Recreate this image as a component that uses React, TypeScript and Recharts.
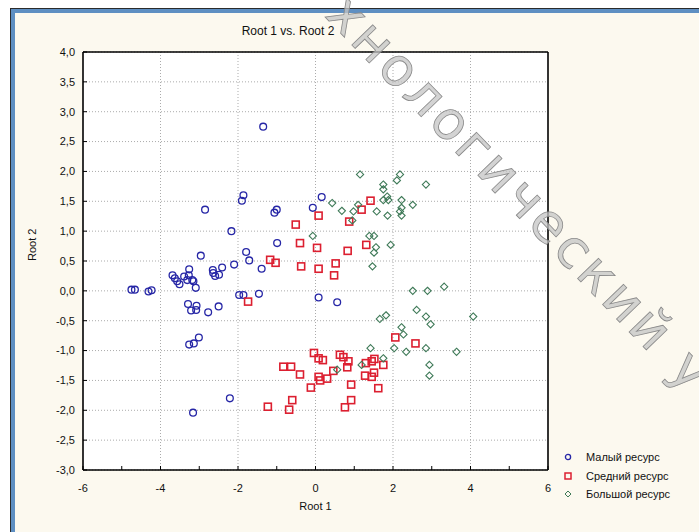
import { ScatterChart, Scatter, XAxis, YAxis, CartesianGrid, ReferenceLine, Legend } from 'recharts';

// Root 1 / Root 2 pairs for each group
const smallRes: [number, number][] = [
  [-1.35, 2.75], [-1.86, 1.6], [-1.9, 1.51], [-2.85, 1.36], [-1.0, 1.36], [-1.06, 1.31],
  [0.16, 1.57], [-0.07, 1.39], [-2.17, 1.0], [-0.99, 0.8], [-2.96, 0.59], [-1.79, 0.65],
  [-1.71, 0.51], [-2.1, 0.44], [-2.41, 0.39], [-3.26, 0.36], [-2.65, 0.35], [-1.39, 0.37],
  [-2.64, 0.3], [-2.59, 0.25], [-2.49, 0.27], [-3.69, 0.26], [-3.63, 0.21], [-3.57, 0.16],
  [-3.51, 0.11], [-3.39, 0.24], [-3.31, 0.18], [-3.18, 0.18], [-3.27, 0.26], [-3.15, 0.16],
  [-3.09, 0.05], [-4.75, 0.02], [-4.66, 0.02], [-4.31, -0.01], [-4.23, 0.01], [-1.97, -0.07],
  [-1.86, -0.07], [-1.46, -0.05], [0.08, -0.11], [0.56, -0.19], [-3.29, -0.22], [-3.21, -0.33],
  [-3.07, -0.25], [-3.08, -0.32], [-2.77, -0.36], [-2.5, -0.26], [-3.26, -0.9], [-3.14, -0.88],
  [-3.01, -0.78], [-2.21, -1.8], [-3.16, -2.04],
];

const mediumRes: [number, number][] = [
  [0.08, 1.26], [-0.51, 1.11], [-0.4, 0.8], [0.04, 0.72], [-1.17, 0.52], [-1.03, 0.47],
  [-0.37, 0.41], [0.08, 0.37], [1.42, 1.51], [1.19, 1.36], [0.87, 1.16], [0.83, 0.67],
  [1.31, 0.77], [0.52, 0.46], [0.48, 0.26], [-1.74, -0.18], [-0.04, -1.04], [0.08, -1.13],
  [0.19, -1.16], [-0.83, -1.27], [-0.63, -1.27], [-0.4, -1.4], [0.08, -1.44], [0.12, -1.5],
  [0.3, -1.47], [-0.12, -1.62], [-0.6, -1.83], [-0.68, -1.99], [-1.23, -1.94], [2.06, -0.78],
  [2.58, -0.88], [0.63, -1.07], [0.72, -1.11], [0.85, -1.18], [0.82, -1.28], [0.46, -1.34],
  [1.3, -1.21], [1.45, -1.18], [1.52, -1.14], [1.75, -1.24], [1.28, -1.42], [1.45, -1.44],
  [1.51, -1.37], [0.92, -1.57], [1.62, -1.63], [0.92, -1.83], [0.76, -1.95],
];

const largeRes: [number, number][] = [
  [-0.07, 0.92], [1.15, 1.95], [2.18, 1.95], [2.1, 1.85], [2.85, 1.78], [1.75, 1.78],
  [1.75, 1.7], [1.85, 1.58], [1.75, 1.52], [1.88, 1.52], [2.22, 1.52], [2.22, 1.39],
  [2.18, 1.33], [2.22, 1.26], [2.51, 1.44], [0.43, 1.47], [0.68, 1.34], [1.1, 1.44],
  [0.98, 1.33], [1.58, 1.33], [1.86, 1.26], [0.95, 1.18], [1.39, 0.92], [1.51, 0.92],
  [1.56, 0.73], [1.51, 0.64], [1.94, 0.77], [1.47, 0.41], [2.51, 0.0], [2.89, 0.0],
  [3.32, 0.07], [2.61, -0.32], [2.85, -0.43], [2.97, -0.56], [4.07, -0.43], [1.66, -0.47],
  [1.82, -0.41], [2.22, -0.61], [2.27, -0.73], [1.42, -0.96], [2.03, -0.96], [2.34, -1.02],
  [2.85, -0.96], [3.64, -1.02], [1.75, -1.13], [1.19, -1.24], [0.56, -1.32], [2.94, -1.24],
  [2.94, -1.42],
];

const seriesNames = ['Малый ресурс', 'Средний ресурс', 'Большой ресурс'];
const xTicks = [-6, -5, -4, -3, -2, -1, 0, 1, 2, 3, 4, 5, 6];
const yTicks = [-3, -2.5, -2, -1.5, -1, -0.5, 0, 0.5, 1, 1.5, 2, 2.5, 3, 3.5, 4];

const toPts = (arr: [number, number][]) => arr.map(([x, y]) => ({ x, y }));

const FONT = '"Liberation Sans", Arial, sans-serif';
const BLUE = '#2626a6';
const RED = '#dc1f30';
const GREEN = '#3f7a58';

const CircleDot = (p: any) => (
  <circle cx={p.cx} cy={p.cy} r={3.4} fill="none" stroke={BLUE} strokeWidth={1.3} />
);
const SquareDot = (p: any) => (
  <rect x={p.cx - 3.5} y={p.cy - 3.5} width={7} height={7} fill="none" stroke={RED} strokeWidth={1.6} />
);
const DiamondDot = (p: any) => (
  <polygon
    points={`${p.cx},${p.cy - 3.6} ${p.cx + 3.6},${p.cy} ${p.cx},${p.cy + 3.6} ${p.cx - 3.6},${p.cy}`}
    fill="none"
    stroke={GREEN}
    strokeWidth={1.1}
  />
);

const legendMarks = [
  <circle cx={5} cy={5} r={2.6} fill="none" stroke={BLUE} strokeWidth={1.3} />,
  <rect x={2} y={2} width={6} height={6} fill="none" stroke={RED} strokeWidth={1.5} />,
  <polygon points="5,2 8,5 5,8 2,5" fill="none" stroke={GREEN} strokeWidth={1} />,
];

function LegendBox() {
  return (
    <div style={{ fontFamily: FONT, fontSize: 11, color: '#111' }}>
      {seriesNames.map((n, i) => (
        <div key={n} style={{ display: 'flex', alignItems: 'center', height: 18.5, whiteSpace: 'nowrap' }}>
          <svg width={10} height={10} style={{ marginRight: 13 }}>{legendMarks[i]}</svg>
          <span>{n}</span>
        </div>
      ))}
    </div>
  );
}

const fmtY = (v: number) => v.toFixed(1).replace('.', ',');
const fmtX = (v: number) => (v % 2 === 0 ? String(v) : '');

export default function App() {
  return (
    <div style={{ position: 'absolute', left: 0, top: 0, width: 699, height: 532, background: '#fff', overflow: 'hidden' }}>
      <div
        style={{
          position: 'absolute', left: 10, top: 8, width: 700, height: 530,
          borderTop: '1px solid #2b2b2b', borderLeft: '1px solid #2b2b2b', boxSizing: 'border-box',
        }}
      >
        <div
          style={{
            position: 'absolute', left: 0, top: 0, right: 0, bottom: 0,
            borderTop: '4px solid #5e8fc2', borderLeft: '4px solid #5e8fc2', background: '#fcf9ef',
          }}
        />
      </div>
      <div
        style={{
          position: 'absolute', left: 188, width: 200, top: 24, textAlign: 'center',
          fontFamily: FONT, fontSize: 12, color: '#111',
        }}
      >
        Root 1 vs. Root 2
      </div>
      <div style={{ position: 'absolute', left: 0, top: 0 }}>
        <ScatterChart width={699} height={532} margin={{ top: 52, right: 151, bottom: 22, left: 10 }}>
          <CartesianGrid
            fill="#fff"
            stroke="#ababab"
            strokeDasharray="1 2"
            verticalCoordinatesGenerator={({ offset }: any) =>
              [-4, -2, 0, 2, 4].map((v) => offset.left + ((v + 6) / 12) * offset.width)
            }
          />
          <XAxis
            type="number"
            dataKey="x"
            domain={[-6, 6]}
            ticks={xTicks}
            tickFormatter={fmtX}
            interval={0}
            height={40}
            tickSize={-4}
            tickMargin={18}
            axisLine={{ stroke: '#000', strokeWidth: 1.6 }}
            tickLine={{ stroke: '#000' }}
            tick={{ fill: '#111', fontSize: 11, fontFamily: FONT }}
            label={{ value: 'Root 1', position: 'bottom', offset: -8, fill: '#111', fontSize: 11, fontFamily: FONT }}
          />
          <XAxis
            xAxisId="top"
            orientation="top"
            type="number"
            domain={[-6, 6]}
            ticks={xTicks}
            tickFormatter={() => ''}
            interval={0}
            height={0}
            tickSize={-4}
            axisLine={{ stroke: '#000', strokeWidth: 1.6 }}
            tickLine={{ stroke: '#000' }}
          />
          <YAxis
            type="number"
            dataKey="y"
            domain={[-3, 4]}
            ticks={yTicks}
            tickFormatter={fmtY}
            interval={0}
            width={73}
            tickSize={-4}
            tickMargin={12}
            axisLine={{ stroke: '#000', strokeWidth: 1.6 }}
            tickLine={{ stroke: '#000' }}
            tick={{ fill: '#111', fontSize: 11, fontFamily: FONT }}
            label={{ value: 'Root 2', angle: -90, position: 'insideLeft', offset: 22, fill: '#111', fontSize: 11, fontFamily: FONT }}
          />
          <YAxis
            yAxisId="right"
            orientation="right"
            type="number"
            domain={[-3, 4]}
            ticks={yTicks}
            tickFormatter={() => ''}
            interval={0}
            width={0}
            tickSize={-4}
            axisLine={{ stroke: '#000', strokeWidth: 1.6 }}
            tickLine={{ stroke: '#000' }}
          />
          <ReferenceLine y={4} stroke="#000" strokeWidth={1.6} />
          <ReferenceLine x={6} stroke="#000" strokeWidth={1.6} />
          <Scatter name={seriesNames[0]} data={toPts(smallRes)} shape={CircleDot} isAnimationActive={false} />
          <Scatter name={seriesNames[1]} data={toPts(mediumRes)} shape={SquareDot} isAnimationActive={false} />
          <Scatter name={seriesNames[2]} data={toPts(largeRes)} shape={DiamondDot} isAnimationActive={false} />
          <Legend
            layout="vertical"
            align="center"
            verticalAlign="middle"
            content={() => <LegendBox />}
            wrapperStyle={{ left: 563, top: 448, width: 140 }}
          />
        </ScatterChart>
      </div>
      <svg width={699} height={532} style={{ position: 'absolute', left: 0, top: 0, pointerEvents: 'none' }}>
        <text
          x={324}
          y={16}
          transform="rotate(46 324 16)"
          fontFamily='"DejaVu Sans", sans-serif'
          fontSize={53}
          letterSpacing={4}
          fill="#c4c4c4"
          fillOpacity={0.75}
          stroke="#8a8a8a"
          strokeWidth={0.8}
        >
          хнологический у
        </text>
      </svg>
    </div>
  );
}
